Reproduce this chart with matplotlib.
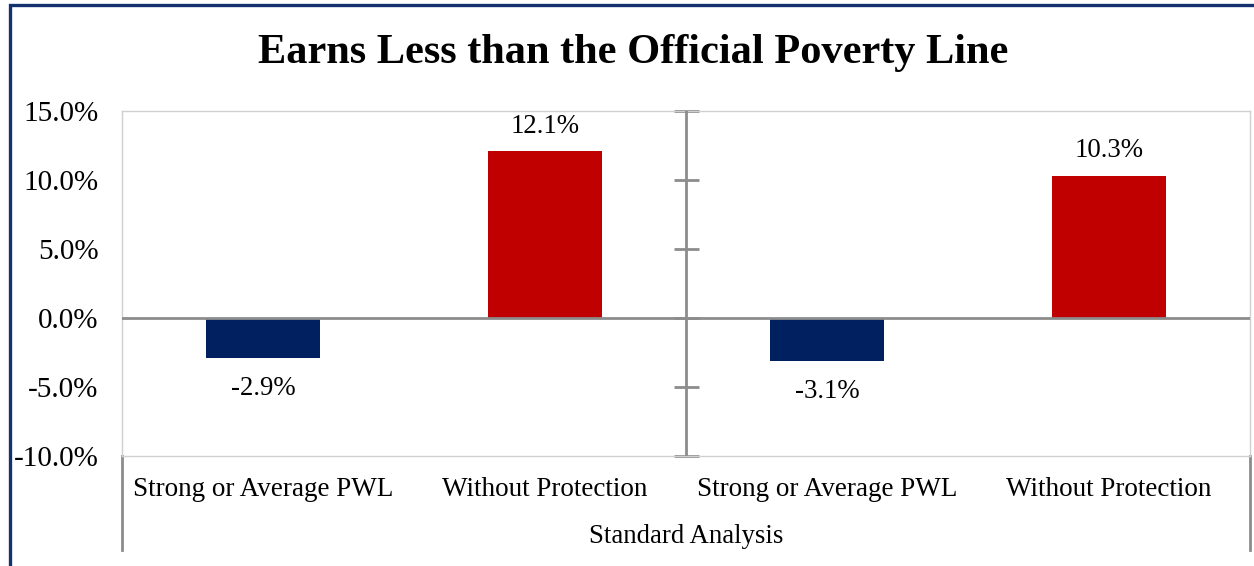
import matplotlib.pyplot as plt
from matplotlib.patches import Rectangle
from matplotlib.lines import Line2D

# data
categories = ["Strong or Average PWL", "Without Protection",
              "Strong or Average PWL", "Without Protection"]
values = [-2.9, 12.1, -3.1, 10.3]
bar_colors = ["#002060", "#C00000", "#002060", "#C00000"]
yticks = [-10, -5, 0, 5, 10, 15]
group_label = "Standard Analysis"
title = "Earns Less than the Official Poverty Line"

plt.rcParams["font.family"] = ["Liberation Serif", "DejaVu Serif"]

fig = plt.figure(figsize=(12.54, 5.66), dpi=100)
ax = fig.add_axes([0.0973, 0.1943, 0.8995, 0.6096])

x = list(range(len(categories)))
ax.bar(x, values, width=0.404, color=bar_colors, zorder=2)
ax.set_xlim(-0.5, len(categories) - 0.5)
ax.set_ylim(-10, 15)

# value labels
for xi, v in zip(x, values):
    off = 9 if v >= 0 else -13
    ax.annotate(f"{v:.1f}%", (xi, v), xytext=(0, off), textcoords="offset points",
                ha="center", va="bottom" if v >= 0 else "top", fontsize=19.3)

# plot box
for s in ax.spines.values():
    s.set_color("#D0D0D0")
    s.set_linewidth(1)

# y tick labels at the left, no tick marks
ax.set_yticks(yticks)
ax.set_yticklabels([f"{t:.1f}%" for t in yticks], fontsize=21)
ax.tick_params(axis="y", length=0, pad=17)

# vertical axis in the middle with crossing ticks
ax.axvline(1.5, color="#8C8C8C", lw=2, zorder=3)
sec = ax.secondary_yaxis(0.5)
sec.set_yticks(yticks)
sec.set_yticklabels([])
sec.tick_params(axis="y", direction="inout", length=18, width=2, color="#8C8C8C")
for s in sec.spines.values():
    s.set_visible(False)

# horizontal axis at zero
ax.axhline(0, color="#8C8C8C", lw=2, zorder=3)

# category labels
ax.set_xticks(x)
ax.set_xticklabels(categories, fontsize=19.5)
ax.tick_params(axis="x", length=0, pad=15)
ax.set_xlabel(group_label, fontsize=19.3, labelpad=16)

# group separators below the plot
for xa in (0, 1):
    ax.add_line(Line2D([xa, xa], [0, -0.272], transform=ax.transAxes,
                       color="#8C8C8C", lw=2, clip_on=False))

fig.text(0.505, 0.906, title, ha="center", va="center",
         fontsize=30.5, fontweight="bold")

# outer frame
fig.patches.append(Rectangle((0.0076, -0.1), 1.2, 1.0903, transform=fig.transFigure,
                             fill=False, edgecolor="#14306E", lw=2.4))

fig.savefig("out.png", dpi=100)
